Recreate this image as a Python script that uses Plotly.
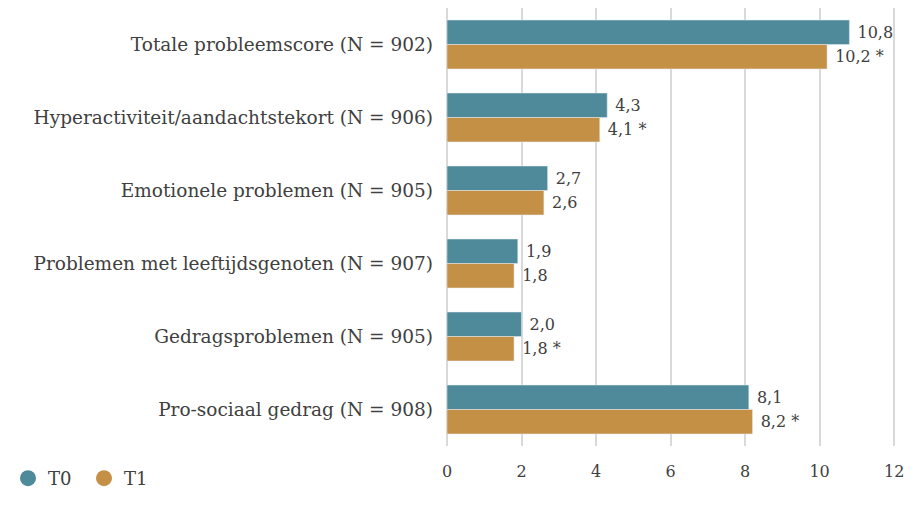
import plotly.graph_objects as go

categories = [
    "Totale probleemscore (N = 902)",
    "Hyperactiviteit/aandachtstekort (N = 906)",
    "Emotionele problemen (N = 905)",
    "Problemen met leeftijdsgenoten (N = 907)",
    "Gedragsproblemen (N = 905)",
    "Pro-sociaal gedrag (N = 908)",
]
t0_values = [10.8, 4.3, 2.7, 1.9, 2.0, 8.1]
t1_values = [10.2, 4.1, 2.6, 1.8, 1.8, 8.2]
t1_significant = [True, True, False, False, True, True]
tick_values = [0, 2, 4, 6, 8, 10, 12]

TEAL = "#4F8A9A"
ORANGE = "#C49046"
FONT = "DejaVu Serif"
TXT = "#404040"

def fmt(v):
    return f"{v:.1f}".replace(".", ",")

t0_text = [" " + fmt(v) for v in t0_values]
t1_text = [" " + fmt(v) + (" *" if s else "") for v, s in zip(t1_values, t1_significant)]

fig = go.Figure()
fig.add_trace(go.Bar(
    y=categories, x=t0_values, orientation="h", name="T0",
    marker_color=TEAL, text=t0_text, textposition="outside",
    textfont=dict(family=FONT, size=16, color=TXT), cliponaxis=False,
    showlegend=False,
))
fig.add_trace(go.Bar(
    y=categories, x=t1_values, orientation="h", name="T1",
    marker_color=ORANGE, text=t1_text, textposition="outside",
    textfont=dict(family=FONT, size=16, color=TXT), cliponaxis=False,
    showlegend=False,
))
# legend entries with circular markers
for name, col in [("T0", TEAL), ("T1", ORANGE)]:
    fig.add_trace(go.Scatter(
        x=[None], y=[None], mode="markers", name=name,
        marker=dict(symbol="circle", size=20, color=col),
    ))

# figure sized to fit inside the page's 8px body margin without scrollbars
fig.update_layout(
    width=898, height=489,
    margin=dict(l=439, r=10, t=0, b=39),
    barmode="group", bargap=0.33, bargroupgap=0,
    plot_bgcolor="white", paper_bgcolor="white",
    font=dict(family=FONT, size=16, color=TXT),
    legend=dict(orientation="h", x=-0.978, xanchor="left", y=-0.075, yanchor="middle",
                font=dict(family=FONT, size=18, color=TXT), itemwidth=30,
                entrywidth=31, bgcolor="rgba(0,0,0,0)"),
    xaxis=dict(range=[0, 12.05], tickvals=tick_values, showgrid=True, automargin=False,
               gridcolor="#D9D9D9", gridwidth=1.5, zeroline=True,
               zerolinecolor="#D9D9D9", zerolinewidth=1.5,
               tickfont=dict(family=FONT, size=16, color=TXT), ticks="", ticklabelstandoff=14),
    yaxis=dict(autorange="reversed", showgrid=False, ticks="", ticklabelstandoff=13,
               automargin=False,
               tickfont=dict(family=FONT, size=18.5, color=TXT)),
)

fig.write_html("out.html", config={"responsive": False, "displayModeBar": False})
